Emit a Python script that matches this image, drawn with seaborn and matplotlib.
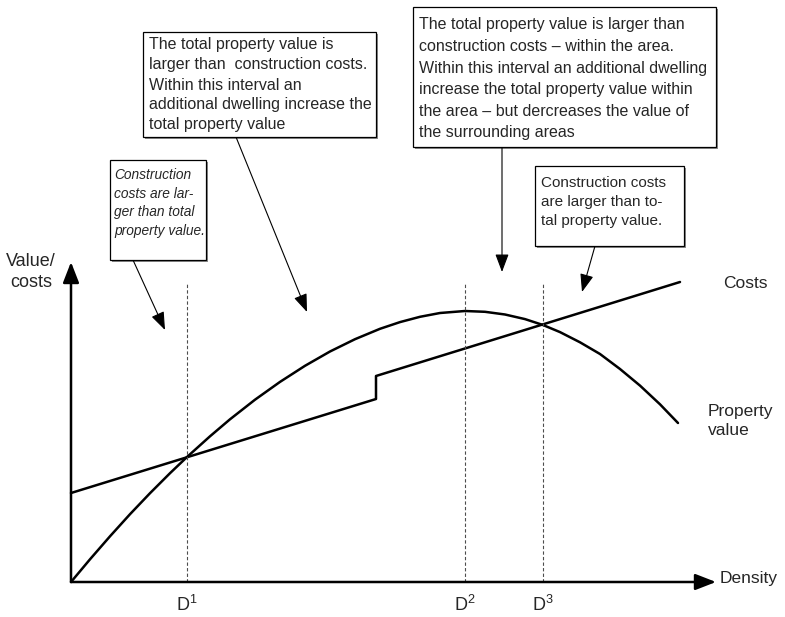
import matplotlib
matplotlib.use("Agg")
import matplotlib.pyplot as plt
import seaborn as sns
from matplotlib.patches import Rectangle

# data (density units, value units; origin = axis origin)
density_costs = [0, 305, 305, 609]
costs = [89, 183, 206, 300]

density_property = [0, 19, 39, 59, 79, 99, 116, 139, 159, 184, 209, 234, 259, 284, 309,
                    329, 349, 369, 394, 414, 434, 454, 472, 489, 509, 529, 549, 569, 589, 607]
property_value = [0, 22.7, 45.7, 67.8, 88.8, 108.8, 125, 145.7, 162.7, 182.3, 200.1, 216.2,
                  230.5, 242.8, 253.2, 259.9, 265.2, 269, 271, 270.2, 267.5, 262.9, 257,
                  249.9, 239.7, 228, 213, 196.4, 177.7, 159]

d_positions = [116, 394, 472]
d_labels = [r"D$^{\mathrm{1}}$", r"D$^{\mathrm{2}}$", r"D$^{\mathrm{3}}$"]

box_texts = [
    ["Construction", "costs are lar-", "ger than total", "property value."],
    ["The total property value is", "larger than  construction costs.", "Within this interval an",
     "additional dwelling increase the", "total property value"],
    ["The total property value is larger than", "construction costs \u2013 within the area.",
     "Within this interval an additional dwelling", "increase the total property value within",
     "the area \u2013 but dercreases the value of", "the surrounding areas"],
    ["Construction costs", "are larger than to-", "tal property value."],
]

sns.set_theme(style="white")
plt.rcParams["font.family"] = ["Liberation Sans", "DejaVu Sans"]
plt.rcParams["mathtext.fontset"] = "custom"
plt.rcParams["mathtext.rm"] = "Liberation Sans"
plt.rcParams["mathtext.it"] = "Liberation Sans:italic"

X0, Y0 = 71, 582  # pixel position of the axis origin


def pos(px, py):
    """pixel position in the 785x617 picture -> data coordinates"""
    return px - X0, Y0 - py


fig = plt.figure(figsize=(7.85, 6.17), dpi=100)
ax = fig.add_axes([0, 0, 1, 1])
ax.set_xlim(-X0, 785 - X0)
ax.set_ylim(Y0 - 617, Y0)
ax.axis("off")

sns.lineplot(x=density_costs, y=costs, estimator=None, sort=False, color="black", lw=1.8, ax=ax)
sns.lineplot(x=density_property, y=property_value, estimator=None, sort=False, color="black",
             lw=1.8, ax=ax, solid_joinstyle="round")

# axes with arrow heads
axis_arrow = dict(arrowstyle="-|>,head_length=0.9,head_width=0.35", color="black", lw=1.8,
                  mutation_scale=14, shrinkA=0, shrinkB=0)
ax.annotate("", xy=pos(71, 262), xytext=(0, 0), arrowprops=axis_arrow)
ax.annotate("", xy=pos(716, 582), xytext=(0, 0), arrowprops=axis_arrow)

ax.vlines(d_positions, 0, Y0 - 282, colors="0.3", lw=0.8, linestyles=(0, (3, 2)))
for d, lab in zip(d_positions, d_labels):
    ax.text(d, Y0 - 605, lab, ha="center", va="center", fontsize=13)

ax.text(*pos(720, 578), "Density", ha="left", va="center", fontsize=12.5)
ax.text(*pos(31, 272), "Value/\ncosts", ha="center", va="center", fontsize=13, linespacing=1.35)
ax.text(*pos(723, 283), "Costs", ha="left", va="center", fontsize=12.5)
ax.text(*pos(708, 421), "Property\nvalue", ha="left", va="center", fontsize=12.5, linespacing=1.3)

# annotation boxes: (left, top, right, bottom) in pixels, first line y, line step, text inset
boxes = [
    ((110, 160, 206, 260), 175, 18.7, "italic", 9.9, 4),
    ((143, 32, 376, 137), 45, 20.0, "normal", 11.5, 6),
    ((413, 7, 716, 147), 25, 21.5, "normal", 11.5, 6),
    ((535, 166, 684, 246), 183, 19.0, "normal", 11, 6),
]
for (l, t, r, b), y_first, step, style, size, inset in boxes:
    bl = pos(l, b)
    ax.add_patch(Rectangle((bl[0] + 1.5, bl[1] - 1.5), r - l, b - t, fc="0.55", ec="none", zorder=3))
    ax.add_patch(Rectangle(bl, r - l, b - t, fc="white", ec="black", lw=0.9, zorder=4))

for ((l, t, r, b), y_first, step, style, size, inset), lines in zip(boxes, box_texts):
    for i, line in enumerate(lines):
        ax.text(*pos(l + inset, y_first + i * step), line, ha="left", va="center",
                fontsize=size, style=style, zorder=5)

# pointer arrows from the boxes
pointer = dict(arrowstyle="-|>,head_length=0.85,head_width=0.32", color="black", lw=0.8,
               mutation_scale=13, shrinkA=0, shrinkB=0)
ax.annotate("", xy=pos(165, 330), xytext=pos(133, 260), arrowprops=pointer)
ax.annotate("", xy=pos(307, 312), xytext=pos(236, 137), arrowprops=pointer)
ax.annotate("", xy=pos(502, 272), xytext=pos(502, 147), arrowprops=pointer)
ax.annotate("", xy=pos(582, 292), xytext=pos(595, 246), arrowprops=pointer)

fig.savefig("out.png", dpi=100)
